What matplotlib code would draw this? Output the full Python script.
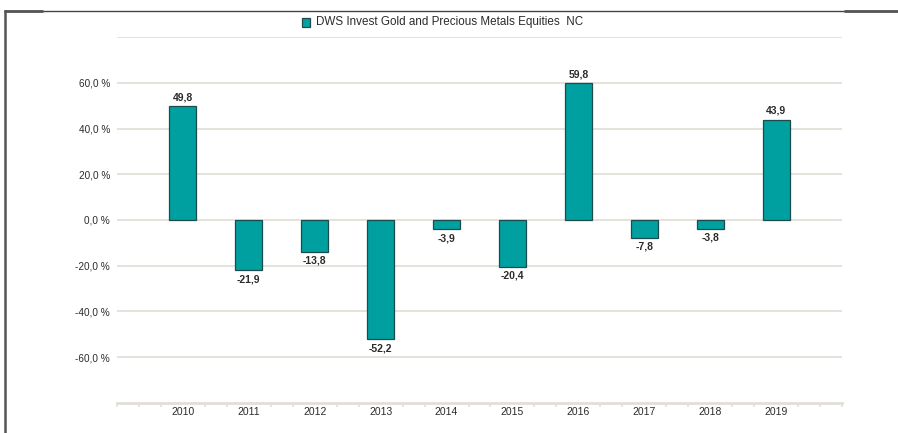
import numpy as np
import matplotlib.pyplot as plt
from matplotlib.lines import Line2D
from matplotlib.patches import Rectangle

plt.rcParams['font.family'] = ['Liberation Sans', 'DejaVu Sans']

# data
years = ["2010", "2011", "2012", "2013", "2014", "2015", "2016", "2017", "2018", "2019"]
returns = [49.8, -21.9, -13.8, -52.2, -3.9, -20.4, 59.8, -7.8, -3.8, 43.9]
series_name = "DWS Invest Gold and Precious Metals Equities  NC"
ytick_vals = [-60, -40, -20, 0, 20, 40, 60]

TEAL = "#00a0a0"
EDGE = "#1d4a4a"
GRID = "#e2dfd8"
TXT = "#2b2b2b"

W, H = 898, 433
fig = plt.figure(figsize=(W / 100, H / 100), dpi=100, facecolor="white")
ax = fig.add_axes([117 / W, 1 - 402.7 / H, (842 - 117) / W, (402.7 - 37.3) / H])

# categories sit every 3 units on a 33-unit axis
xpos = np.arange(1, len(years) + 1) * 3
ax.bar(xpos, returns, width=1.23, color=TEAL, edgecolor=EDGE, linewidth=0.9, zorder=3)

for x, v in zip(xpos, returns):
    lab = f"{v:.1f}".replace(".", ",")
    if v >= 0:
        ax.annotate(lab, (x, v), xytext=(0, 3), textcoords="offset points",
                    ha="center", va="bottom", fontsize=7.5, color=TXT, fontweight="bold")
    else:
        ax.annotate(lab, (x, v), xytext=(0, -3), textcoords="offset points",
                    ha="center", va="top", fontsize=7.5, color=TXT, fontweight="bold")

ax.set_xlim(0, 33)
ax.set_ylim(-80, 80)

# gridlines
for g in range(-60, 81, 20):
    ax.axhline(g, color=GRID, linewidth=1.3, zorder=1)

ax.set_yticks(ytick_vals)
ax.set_yticklabels([f"{v:.1f}".replace(".", ",") + " %" for v in ytick_vals],
                   fontsize=7.2, color=TXT)
ax.tick_params(axis="y", length=0, pad=5)

ax.set_xticks(xpos)
ax.set_xticklabels(years, fontsize=7.5, color=TXT)
ax.tick_params(axis="x", which="major", length=0, pad=3)
minor = [i for i in range(0, 34) if i % 3 != 0 or i in (0, 33)]
ax.set_xticks(minor, minor=True)
ax.tick_params(axis="x", which="minor", length=3, width=1.2, color=GRID)

for s in ("top", "right", "left"):
    ax.spines[s].set_visible(False)
ax.spines["bottom"].set_color(GRID)
ax.spines["bottom"].set_linewidth(2)

# legend
fig.patches.append(Rectangle((302 / W, 1 - 27 / H), 8 / W, 9 / H, transform=fig.transFigure,
                             facecolor=TEAL, edgecolor=EDGE, linewidth=0.9))
fig.text(316 / W, 1 - 22.5 / H, series_name, fontsize=8.4, color=TXT, va="center", ha="left")

# frame lines
def fl(x0, x1, y0, y1, lw, c):
    fig.add_artist(Line2D([x0 / W, x1 / W], [1 - y0 / H, 1 - y1 / H],
                          transform=fig.transFigure, color=c, linewidth=lw,
                          solid_capstyle="butt"))

fl(4, 898, 10.5, 10.5, 1.0, "#444444")
fl(4, 43, 11, 11, 2.0, "#555555")
fl(844, 898, 11, 11, 2.0, "#555555")
fl(5, 5, 10, 433, 1.8, "#555555")

fig.savefig("out.png", dpi=100)
